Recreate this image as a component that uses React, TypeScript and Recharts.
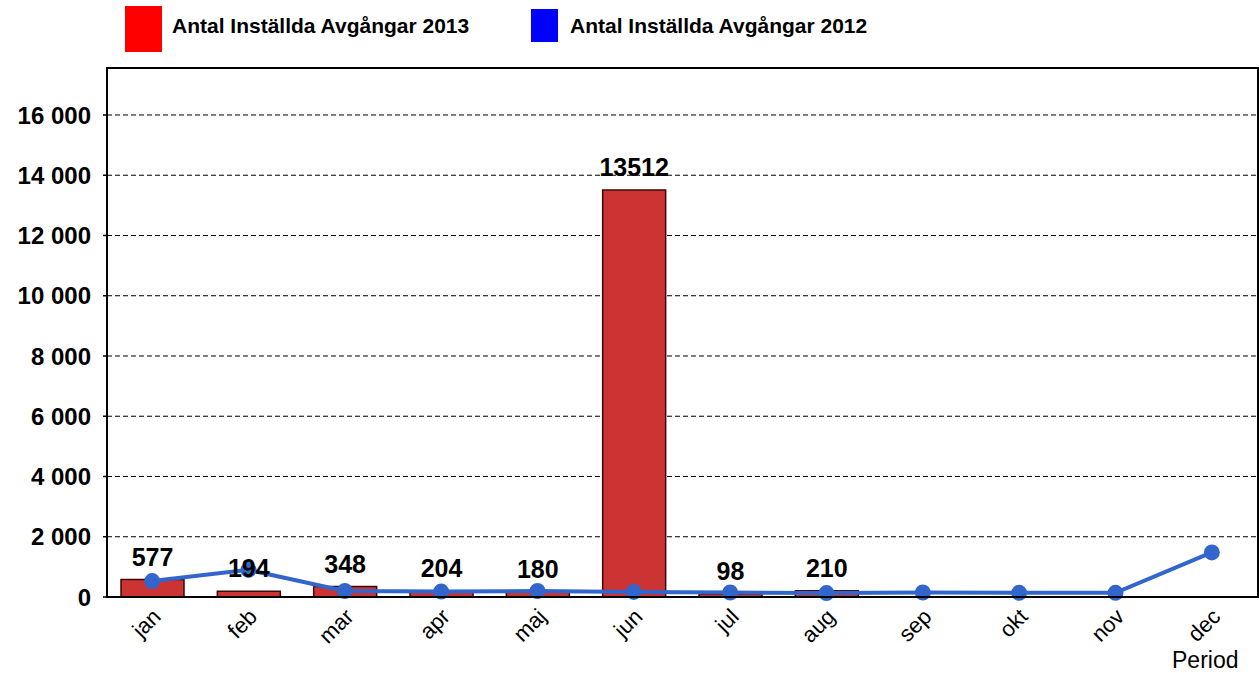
import { ComposedChart, Bar, Line, XAxis, YAxis, CartesianGrid, LabelList } from "recharts";

const months = ["jan", "feb", "mar", "apr", "maj", "jun", "jul", "aug", "sep", "okt", "nov", "dec"];
const cancelled2013: (number | null)[] = [577, 194, 348, 204, 180, 13512, 98, 210, null, null, null, null];
const cancelled2012 = [530, 900, 200, 180, 200, 170, 150, 130, 150, 140, 140, 1480];
const yTicks = [0, 2000, 4000, 6000, 8000, 10000, 12000, 14000, 16000];

const data = months.map((m, i) => ({ month: m, y2013: cancelled2013[i], y2012: cancelled2012[i] }));

const fmt = (v: number) => v.toLocaleString("en-US").replace(/,/g, " ");

function XTick({ x, y, payload }: any) {
  const px = x + 10;
  const py = y + 13;
  return (
    <text x={px} y={py} transform={`rotate(-45 ${px} ${py})`} textAnchor="end" fontSize={22} fontFamily="Liberation Sans, Arial, sans-serif" fill="#000">
      {payload.value}
    </text>
  );
}

export default function App() {
  return (
    <div style={{ position: "absolute", left: 0, top: 0, width: 1259, height: 673, background: "#fff", fontFamily: "Liberation Sans, Arial, sans-serif" }}>
      <div style={{ position: "absolute", left: 125, top: 6, width: 37, height: 46, background: "#ff0000" }} />
      <div style={{ position: "absolute", left: 172, top: 14, fontSize: 21, fontWeight: "bold" }}>Antal Inställda Avgångar 2013</div>
      <div style={{ position: "absolute", left: 531, top: 9, width: 27, height: 33, background: "#0000ff" }} />
      <div style={{ position: "absolute", left: 570, top: 14, fontSize: 21, fontWeight: "bold" }}>Antal Inställda Avgångar 2012</div>
      <div style={{ position: "absolute", left: 1172, top: 647, fontSize: 23 }}>Period</div>
      <ComposedChart width={1259} height={673} data={data} margin={{ top: 68, right: 2, left: 7, bottom: 16 }}>
        <CartesianGrid vertical={false} stroke="#000" strokeDasharray="5 3" />
        <XAxis dataKey="month" tick={<XTick />} tickLine={false} axisLine={false} height={60} interval={0} padding={{ left: -3, right: -3 }} />
        <YAxis
          width={100}
          domain={[0, 17560]}
          ticks={yTicks}
          tickFormatter={fmt}
          axisLine={false}
          tickLine={{ stroke: "#000", strokeWidth: 1.5 }}
          tickSize={4}
          tickMargin={12}
          tick={{ fill: "#000", fontSize: 24, fontWeight: "bold" }}
        />
        <Bar dataKey="y2013" fill="#cc3333" stroke="#3a0a0a" strokeWidth={1.5} barSize={63} isAnimationActive={false}>
          <LabelList dataKey="y2013" position="top" offset={14} fill="#000" fontSize={25} fontWeight="bold" />
        </Bar>
        <Line dataKey="y2012" type="linear" stroke="#3366cc" strokeWidth={4} dot={{ r: 6, fill: "#3366cc", stroke: "#3366cc" }} isAnimationActive={false} />
      </ComposedChart>
      <div style={{ position: "absolute", left: 106, top: 67, width: 1149, height: 527, border: "2px solid #000", pointerEvents: "none" }} />
    </div>
  );
}
